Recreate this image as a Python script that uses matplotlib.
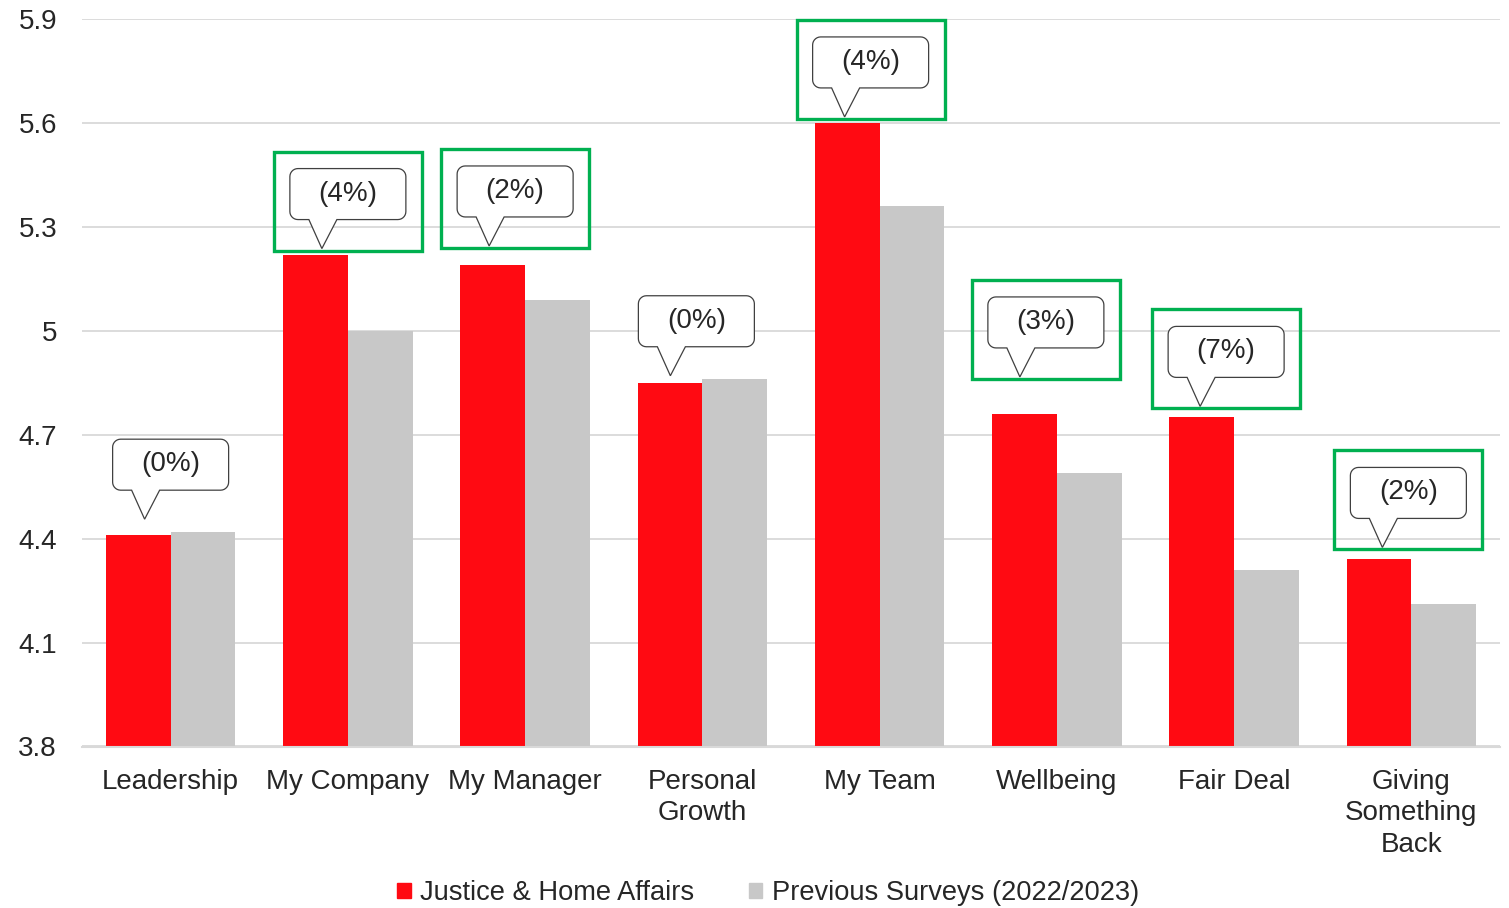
import matplotlib
matplotlib.use("Agg")
import matplotlib.pyplot as plt
import numpy as np
from matplotlib.patches import Patch, PathPatch, Rectangle
from matplotlib.path import Path
from matplotlib.transforms import Affine2D

plt.rcParams["font.family"] = ["Liberation Sans", "DejaVu Sans"]

# data
categories = ["Leadership", "My Company", "My Manager", "Personal\nGrowth",
              "My Team", "Wellbeing", "Fair Deal", "Giving\nSomething\nBack"]
jha_scores = [4.41, 5.22, 5.19, 4.85, 5.60, 4.76, 4.75, 4.34]
previous_scores = [4.42, 5.00, 5.09, 4.86, 5.36, 4.59, 4.31, 4.21]
change_labels = ["(0%)", "(4%)", "(2%)", "(0%)", "(4%)", "(3%)", "(7%)", "(2%)"]
highlighted = [False, True, True, False, True, True, True, True]
y_ticks = [3.8, 4.1, 4.4, 4.7, 5.0, 5.3, 5.6, 5.9]
y_tick_labels = ["3.8", "4.1", "4.4", "4.7", "5", "5.3", "5.6", "5.9"]

# callout layout in pixels: gap above the red bar, horizontal nudge
tip_gap_px = [16, 6, 19, 7, 6, 37, 11, 12]
nudge_px = [0, 0, -10, -6, -9, -11, -8, -3]

RED = "#FF0A12"
GREY = "#C8C8C8"
GREEN = "#00B050"
TEXT = "#262626"
FS = 20


def bubble_path() -> Path:
    # rounded speech bubble, tip at (0, 0), in pixels
    left, right, bottom, top, r = -32, 84, 29, 80, 8
    verts = [(-13, bottom), (0, 0), (15, bottom)]

    def arc(cx, cy, a0, a1):
        t = np.radians(np.linspace(a0, a1, 8))
        return list(zip(cx + r * np.cos(t), cy + r * np.sin(t)))

    verts += arc(right - r, bottom + r, -90, 0)
    verts += arc(right - r, top - r, 0, 90)
    verts += arc(left + r, top - r, 90, 180)
    verts += arc(left + r, bottom + r, 180, 270)
    verts.append((-13, bottom))
    codes = [Path.MOVETO] + [Path.LINETO] * (len(verts) - 2) + [Path.CLOSEPOLY]
    return Path(verts, codes)


fig = plt.figure(figsize=(15.09, 9.08), dpi=100)
ax = fig.add_axes([82 / 1509, (908 - 746.5) / 908, 1418 / 1509, 727.5 / 908])

x = np.arange(len(categories))
width = 0.365
ax.bar(x - width / 2, jha_scores, width, color=RED, zorder=2)
ax.bar(x + width / 2, previous_scores, width, color=GREY, zorder=2)

ax.set_xlim(-0.5, len(categories) - 0.5)
ax.set_ylim(3.8, 5.9)
ax.set_yticks(y_ticks)
ax.set_yticklabels(y_tick_labels)
ax.set_xticks(x)
ax.set_xticklabels(categories, linespacing=1.27)
ax.tick_params(axis="y", length=0, pad=18, labelsize=FS, labelcolor=TEXT)
ax.tick_params(axis="x", length=0, pad=16, labelsize=FS, labelcolor=TEXT)
ax.grid(axis="y", color="#D9D9D9", linewidth=1.3, zorder=0)
ax.set_axisbelow(True)
for side in ["left", "right", "top"]:
    ax.spines[side].set_visible(False)
ax.spines["bottom"].set_color("#D9D9D9")
ax.spines["bottom"].set_linewidth(1.5)

path = bubble_path()
for i, (val, label, hl) in enumerate(zip(jha_scores, change_labels, highlighted)):
    px, py = ax.transData.transform((x[i], val))
    trans = Affine2D().translate(px - 26 + nudge_px[i], py + tip_gap_px[i])
    ax.add_patch(PathPatch(path, transform=trans, facecolor="white",
                           edgecolor="#404040", linewidth=0.9, zorder=4, clip_on=False))
    ax.text(26, 55, label, transform=trans, ha="center", va="center",
            fontsize=FS, color=TEXT, zorder=5)
    if hl:
        ax.add_patch(Rectangle((-48, -2), 148, 99, transform=trans, fill=False,
                               edgecolor=GREEN, linewidth=2.4, zorder=6, clip_on=False))

handles = [Patch(color=RED, label="Justice & Home Affairs"),
           Patch(color=GREY, label="Previous Surveys (2022/2023)")]
fig.legend(handles=handles, loc="center", bbox_to_anchor=(768 / 1509, 1 - 893 / 908),
           ncol=2, frameon=False, fontsize=19.6, handlelength=0.5, handleheight=0.5,
           handletextpad=0.35, columnspacing=2.0, labelcolor=TEXT)

fig.savefig("out.png", dpi=100)
